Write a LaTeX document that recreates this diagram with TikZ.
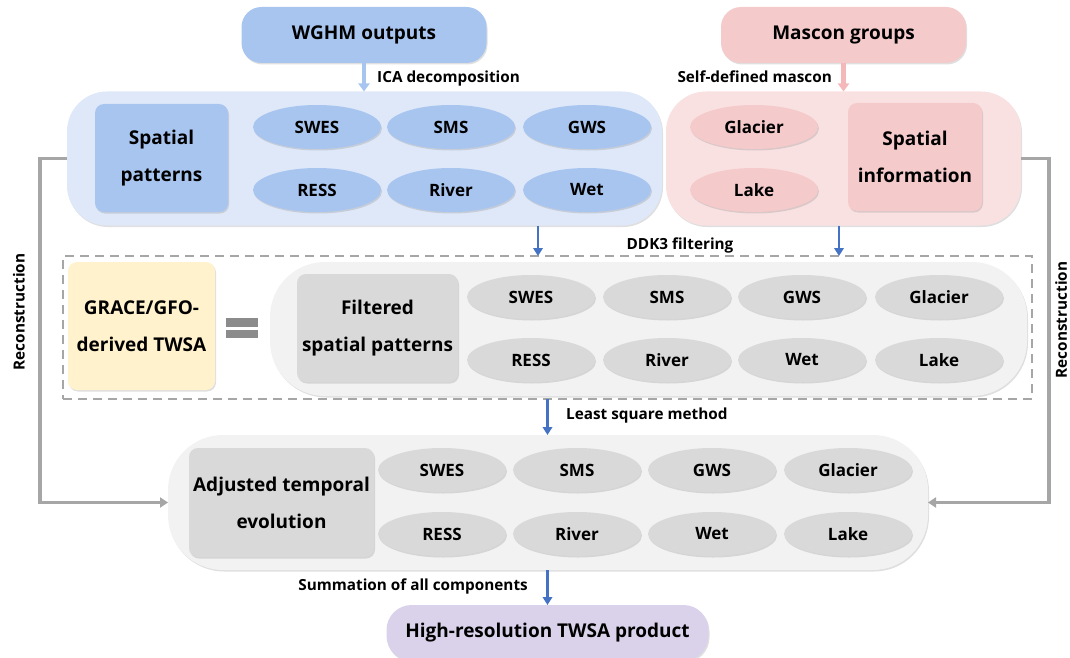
\documentclass[tikz,border=0pt]{standalone}
\usepackage{fontspec}
\setmainfont{Open Sans}
\usetikzlibrary{shapes.geometric,arrows.meta,shadows}
\definecolor{boxblue}{HTML}{A8C5F0}
\definecolor{bluebg}{HTML}{DEE8F8}
\definecolor{boxpink}{HTML}{F4CACB}
\definecolor{pinkbg}{HTML}{F9E1E2}
\definecolor{boxgray}{HTML}{D9D9D9}
\definecolor{graybg}{HTML}{F2F2F2}
\definecolor{boxyellow}{HTML}{FFF2CC}
\definecolor{boxpurple}{HTML}{DAD2EA}
\definecolor{arrowblue}{HTML}{4472C4}
\definecolor{arrowpink}{HTML}{F4B8BA}
\definecolor{linegray}{HTML}{A6A6A6}
\newcommand{\titlefont}{\fontsize{19}{37}\selectfont\bfseries}
\newcommand{\itemfont}{\fontsize{17}{20}\selectfont\bfseries}
\newcommand{\notefont}{\fontsize{15.3}{18}\selectfont\bfseries}
\tikzset{
  shade/.style={drop shadow={opacity=0.25, shadow xshift=1pt, shadow yshift=-1.5pt}},
  grp/.style={rectangle, rounded corners=40pt, inner sep=0pt, outer sep=0pt, shade},
  head/.style={rectangle, rounded corners=20pt, inner sep=0pt, outer sep=0pt, font=\titlefont, shade},
  box/.style={rectangle, rounded corners=9pt, inner sep=0pt, outer sep=0pt, align=center, font=\titlefont, shade},
  item/.style={ellipse, minimum width=128pt, minimum height=44pt, inner sep=0pt, font=\itemfont, shade},
  note/.style={font=\notefont, inner sep=0pt},
  bluearrow/.style={draw=arrowblue, line width=2.8pt, -{Triangle[width=9.5pt,length=8pt]}},
  lightarrow/.style={line width=4.5pt, -{Triangle[width=11pt,length=8pt]}},
  back/.style={draw=linegray, line width=3.2pt, -{Triangle[width=10pt,length=8pt]}}
}
\begin{document}
\begin{tikzpicture}[x=1pt,y=-1pt]
\useasboundingbox (0,0) rectangle (1070,658);
\node[head, fill=boxblue, minimum width=245pt, minimum height=56pt] (wghm) at (364,35) {WGHM outputs};
\node[head, fill=boxpink, minimum width=245pt, minimum height=56pt] (mascon) at (843.5,35) {Mascon groups};
\node[grp, fill=bluebg, minimum width=595pt, minimum height=134pt] (bluegrp) at (364.5,158.5) {};
\node[grp, fill=pinkbg, minimum width=355pt, minimum height=134pt] (pinkgrp) at (843.5,158.5) {};
\node[box, fill=boxblue, minimum width=133pt, minimum height=108pt] (spat) at (161.5,158) {Spatial\\patterns};
\node[item, fill=boxblue] (bswes) at (317,127) {SWES};
\node[item, fill=boxblue] (bsms) at (451,127) {SMS};
\node[item, fill=boxblue] (bgws) at (587,127) {GWS};
\node[item, fill=boxblue] (bress) at (317,190) {RESS};
\node[item, fill=boxblue] (briver) at (451,190) {River};
\node[item, fill=boxblue] (bwet) at (587,190) {Wet};
\node[item, fill=boxpink] (pglacier) at (754,127) {Glacier};
\node[item, fill=boxpink] (plake) at (754,190) {Lake};
\node[box, fill=boxpink, minimum width=134pt, minimum height=108pt] (spatinfo) at (915,157) {Spatial\\information};
\draw[lightarrow, draw=boxblue] (wghm.south) -- (wghm.south |- bluegrp.north);
\node[note, anchor=west] (ica) at (377,79) {ICA decomposition};
\draw[lightarrow, draw=arrowpink] (mascon.south) -- (mascon.south |- pinkgrp.north);
\node[note, anchor=east] (self) at (832,77) {Self-defined mascon};
\node[draw=linegray, line width=1.4pt, dash pattern=on 9pt off 6pt, minimum width=969pt, minimum height=143pt, inner sep=0pt, outer sep=0pt] (ddk) at (547.5,327.5) {};
\draw[bluearrow] (538,0 |- bluegrp.south) -- (538,0 |- ddk.north);
\draw[bluearrow] (839,0 |- pinkgrp.south) -- (839,0 |- ddk.north);
\node[note] (ddklab) at (680,245) {DDK3 filtering};
\node[box, fill=boxyellow, minimum width=147pt, minimum height=128pt] (grace) at (141.5,326) {GRACE/GFO-\\derived TWSA};
\fill[linegray!130] (226,318) rectangle (258,327);
\fill[linegray!130] (226,329.5) rectangle (258,337.5);
\node[grp, fill=graybg, rounded corners=55pt, minimum width=757pt, minimum height=134pt] (filtgrp) at (648.5,329) {};
\node[box, fill=boxgray, minimum width=161pt, minimum height=108pt] (filt) at (377.5,328) {Filtered\\spatial patterns};
\node[item, fill=boxgray] (fswes) at (531,297) {SWES};
\node[item, fill=boxgray] (fsms) at (667,297) {SMS};
\node[item, fill=boxgray] (fgws) at (802,297) {GWS};
\node[item, fill=boxgray] (fglacier) at (939,297) {Glacier};
\node[item, fill=boxgray] (fress) at (531,360) {RESS};
\node[item, fill=boxgray] (friver) at (667,360) {River};
\node[item, fill=boxgray] (fwet) at (802,360) {Wet};
\node[item, fill=boxgray] (flake) at (939,360) {Lake};
\node[grp, fill=graybg, rounded corners=55pt, minimum width=760pt, minimum height=135pt] (adjgrp) at (548,502.5) {};
\draw[bluearrow] (ddk.south) -- (ddk.south |- adjgrp.north);
\node[note, anchor=west] (lsq) at (566,416) {Least square method};
\node[box, fill=boxgray, minimum width=185pt, minimum height=109pt] (adj) at (281.5,502.5) {Adjusted temporal\\evolution};
\node[item, fill=boxgray] (aswes) at (442,470) {SWES};
\node[item, fill=boxgray] (asms) at (577,470) {SMS};
\node[item, fill=boxgray] (agws) at (712,470) {GWS};
\node[item, fill=boxgray] (aglacier) at (848,470) {Glacier};
\node[item, fill=boxgray] (aress) at (442,534) {RESS};
\node[item, fill=boxgray] (ariver) at (577,534) {River};
\node[item, fill=boxgray] (awet) at (712,534) {Wet};
\node[item, fill=boxgray] (alake) at (848,534) {Lake};
\node[head, fill=boxpurple, rounded corners=25pt, minimum width=322pt, minimum height=56pt] (hires) at (547.5,633) {High-resolution TWSA product};
\draw[bluearrow] (adjgrp.south -| hires.north) -- (hires.north);
\node[note, anchor=east] (sumlab) at (528,586) {Summation of all components};
\draw[back] (bluegrp.west) -- ++(-27,0) |- (adjgrp.west);
\draw[back] (pinkgrp.east) -- ++(28,0) |- (adjgrp.east);
\node[note, rotate=90] (recl) at (19,312) {Reconstruction};
\node[note, rotate=90] (recr) at (1061,320) {Reconstruction};
\end{tikzpicture}
\end{document}
